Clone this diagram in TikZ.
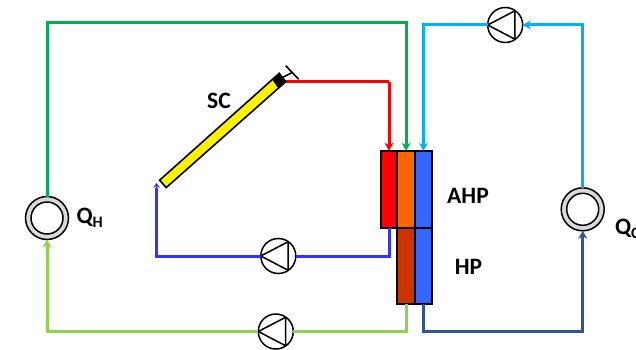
\documentclass[tikz,border=0pt]{standalone}
\usepackage{fontspec}
\setmainfont{Carlito}
\usetikzlibrary{arrows.meta,calc}
\definecolor{cRed}{HTML}{FF0000}
\definecolor{cGreen}{HTML}{00B050}
\definecolor{cCyan}{HTML}{00B0F0}
\definecolor{cBlue}{HTML}{3333FF}
\definecolor{cLime}{HTML}{92D050}
\definecolor{cNavy}{HTML}{2F5597}
\definecolor{cOrange}{HTML}{FF6600}
\definecolor{cBrown}{HTML}{CC3300}
\definecolor{cBox}{HTML}{3366FF}
\definecolor{cGray}{HTML}{D9D9D9}
\tikzset{
  pipe/.style={line width=3pt,line join=miter},
  flow/.style={pipe,-{Stealth[length=8pt,width=9pt,inset=2.5pt]}},
  pumpc/.style={circle,draw=black,line width=1.5pt,fill=white,minimum size=35pt,inner sep=0pt,outer sep=0pt},
  hub/.style={circle,draw=black,line width=1.5pt,fill=cGray,minimum size=43pt,inner sep=0pt,outer sep=0pt},
  hubin/.style={circle,draw=black,line width=1.5pt,fill=white,minimum size=32pt,inner sep=0pt,outer sep=0pt},
  lbl/.style={font=\bfseries\fontsize{23.5}{25}\selectfont,inner sep=0pt,outer sep=0pt},
  blk/.style={draw=black,rectangle,inner sep=0pt,outer sep=0pt,line width=1.7pt,anchor=north west}
}
\newcommand{\pumpglyph}[1]{%
  \draw[black,line width=1.5pt,line join=round] (#1.west) -- ($(#1.center)+(9.7,-14.2)$) -- ($(#1.center)+(9.7,14.2)$) -- cycle;}
\begin{document}
\begin{tikzpicture}[x=1pt,y=-1pt]
\useasboundingbox (0,0) rectangle (636,350);
% hubs and pumps
\node[hub] (QH) at (47,218) {};
\node[hubin] (QHi) at (47,218) {};
\node[hub] (QC) at (582.7,209.3) {};
\node[hubin] (QCi) at (582.7,209.3) {};
\node[pumpc] (pT) at (505.2,25) {};
\node[pumpc] (pA) at (278.3,256) {};
\node[pumpc] (pB) at (275.8,331.5) {};
\pumpglyph{pT}\pumpglyph{pA}\pumpglyph{pB}
% heat exchangers
\node[blk,fill=cRed,minimum width=16.6pt,minimum height=77.5pt] (ahpR) at (380.7,150.8) {};
\node[blk,fill=cOrange,minimum width=17.6pt,minimum height=77.5pt] (ahpO) at (397.3,150.8) {};
\node[blk,fill=cBox,minimum width=17pt,minimum height=77.5pt] (ahpB) at (414.9,150.8) {};
\node[blk,fill=cBrown,minimum width=17.6pt,minimum height=76pt] (hpO) at (397.3,228.3) {};
\node[blk,fill=cBox,minimum width=17pt,minimum height=76pt] (hpB) at (414.9,228.3) {};
% collector
\coordinate (scOut) at (283,82);
\coordinate (scIn) at (156.5,183);
\draw[cRed,pipe] (scOut) -- (389,82);
\draw[black,line width=1.6pt,fill=yellow] (159.6,180.2) -- (279.3,73.3) -- (285.7,81.7) -- (166.2,187.6) -- cycle;
\fill[black,rounded corners=1pt] (272.6,80) -- (279.3,73.3) -- (285.7,81.7) -- (278.3,88.3) -- cycle;
\draw[black,line width=1.6pt] (285.7,65.7) -- (298.7,79.3) (282.7,77.3) -- (292.2,72.6);
% connectors
\draw[flow,cRed] (389,82) -- (ahpR.north);
\draw[pipe,cBlue] (ahpR.south) |- (pA.east);
\draw[pipe,cBlue] (pA.west) -| ($(scIn)+(0,5)$);
\draw[cBlue,line width=1.8pt,-{Stealth[length=5pt,width=7pt,inset=2pt]}] ($(scIn)+(0,6)$) -- (scIn);
\draw[pipe,cGreen] (QH.north) |- (ahpO.north |- 0,23) coordinate (gC);
\draw[flow,cGreen] (gC) ++(0,-1.5) -- (ahpO.north);
\draw[flow,cCyan] (QC.north) |- (pT.east);
\draw[flow,cCyan] (pT.west) -| (ahpB.north);
\draw[pipe,cLime] (hpO.south) |- (pB.east);
\draw[flow,cLime] (pB.west) -| (QH.south);
\draw[flow,cNavy] (hpB.south) |- (QC.south |- pB.east) -- (QC.south);
% labels
\node[lbl] (sc) at (219,100.5) {SC};
\node[lbl] (ahp) at (468,196) {AHP};
\node[lbl] (hp) at (468.5,267) {HP};
\node[lbl,anchor=west] (qh) at (76.5,218) {Q\raisebox{-4.5pt}{\fontsize{16}{16}\selectfont H}};
\node[lbl,anchor=west] (qc) at (615,229) {Q\raisebox{-4.5pt}{\fontsize{16}{16}\selectfont C}};
\end{tikzpicture}
\end{document}
